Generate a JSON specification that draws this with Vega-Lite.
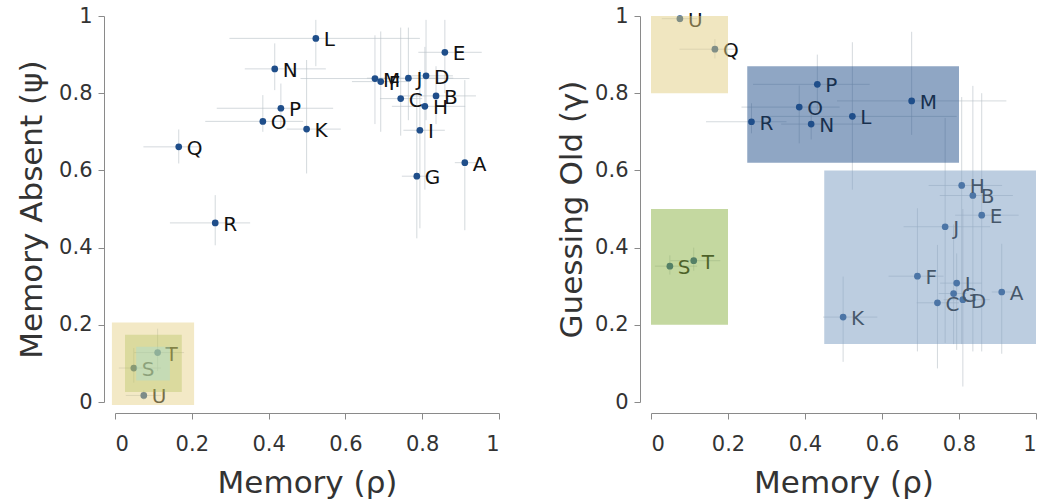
{
  "$schema": "https://vega.github.io/schema/vega-lite/v6.json",
  "padding": {"left": 16, "top": 5, "right": 5, "bottom": 5},
  "spacing": 56,
  "resolve": {"scale": {"color": "independent", "opacity": "independent"}},
  "config": {
    "font": "DejaVu Sans",
    "view": {"stroke": null},
    "axis": {
      "grid": false,
      "domainColor": "#8a8a8a",
      "tickColor": "#8a8a8a",
      "tickSize": 6,
      "labelFontSize": 21,
      "labelColor": "#333333",
      "titleFontSize": 31,
      "titleFontWeight": "normal",
      "titleColor": "#333333",
      "offset": 11
    },
    "axisY": {"titlePadding": 10, "labelPadding": 6},
    "axisX": {"titlePadding": 14, "labelPadding": 14}
  },
  "datasets": {
    "subj": [
      {"id": "A", "mx": 0.911, "mxlo": 0.885, "mxhi": 0.94, "psi": 0.620, "plo": 0.445, "phi": 0.834, "gam": 0.285, "glo": 0.125, "ghi": 0.41},
      {"id": "B", "mx": 0.836, "mxlo": 0.75, "mxhi": 0.94, "psi": 0.793, "plo": 0.72, "phi": 0.87, "gam": 0.535, "glo": 0.131, "ghi": 0.819},
      {"id": "C", "mx": 0.744, "mxlo": 0.69, "mxhi": 0.80, "psi": 0.786, "plo": 0.69, "phi": 0.97, "gam": 0.257, "glo": 0.087, "ghi": 0.407},
      {"id": "D", "mx": 0.810, "mxlo": 0.76, "mxhi": 0.88, "psi": 0.845, "plo": 0.73, "phi": 0.99, "gam": 0.265, "glo": 0.04, "ghi": 0.5},
      {"id": "E", "mx": 0.859, "mxlo": 0.79, "mxhi": 0.955, "psi": 0.906, "plo": 0.80, "phi": 0.99, "gam": 0.484, "glo": 0.131, "ghi": 0.80},
      {"id": "F", "mx": 0.692, "mxlo": 0.617, "mxhi": 0.760, "psi": 0.830, "plo": 0.70, "phi": 0.96, "gam": 0.326, "glo": 0.131, "ghi": 0.502},
      {"id": "G", "mx": 0.786, "mxlo": 0.747, "mxhi": 0.82, "psi": 0.585, "plo": 0.424, "phi": 0.80, "gam": 0.281, "glo": 0.15, "ghi": 0.46},
      {"id": "H", "mx": 0.807, "mxlo": 0.721, "mxhi": 0.912, "psi": 0.766, "plo": 0.55, "phi": 0.92, "gam": 0.561, "glo": 0.15, "ghi": 0.79},
      {"id": "I", "mx": 0.794, "mxlo": 0.751, "mxhi": 0.859, "psi": 0.704, "plo": 0.45, "phi": 0.86, "gam": 0.308, "glo": 0.135, "ghi": 0.385},
      {"id": "J", "mx": 0.764, "mxlo": 0.656, "mxhi": 0.881, "psi": 0.839, "plo": 0.73, "phi": 0.97, "gam": 0.454, "glo": 0.153, "ghi": 0.736},
      {"id": "K", "mx": 0.499, "mxlo": 0.447, "mxhi": 0.588, "psi": 0.707, "plo": 0.592, "phi": 0.886, "gam": 0.220, "glo": 0.104, "ghi": 0.325},
      {"id": "L", "mx": 0.523, "mxlo": 0.298, "mxhi": 0.794, "psi": 0.942, "plo": 0.87, "phi": 0.99, "gam": 0.740, "glo": 0.55, "ghi": 0.932},
      {"id": "M", "mx": 0.677, "mxlo": 0.483, "mxhi": 0.923, "psi": 0.838, "plo": 0.72, "phi": 0.95, "gam": 0.780, "glo": 0.692, "ghi": 0.959},
      {"id": "N", "mx": 0.416, "mxlo": 0.338, "mxhi": 0.549, "psi": 0.863, "plo": 0.808, "phi": 0.929, "gam": 0.720, "glo": 0.68, "ghi": 0.77},
      {"id": "O", "mx": 0.385, "mxlo": 0.235, "mxhi": 0.49, "psi": 0.727, "plo": 0.70, "phi": 0.795, "gam": 0.764, "glo": 0.67, "ghi": 0.82},
      {"id": "P", "mx": 0.432, "mxlo": 0.265, "mxhi": 0.568, "psi": 0.761, "plo": 0.713, "phi": 0.825, "gam": 0.823, "glo": 0.757, "ghi": 0.900},
      {"id": "Q", "mx": 0.166, "mxlo": 0.074, "mxhi": 0.223, "psi": 0.661, "plo": 0.618, "phi": 0.706, "gam": 0.914, "glo": 0.89, "ghi": 0.94},
      {"id": "R", "mx": 0.261, "mxlo": 0.143, "mxhi": 0.352, "psi": 0.464, "plo": 0.406, "phi": 0.536, "gam": 0.726, "glo": 0.696, "ghi": 0.774},
      {"id": "S", "mx": 0.049, "mxlo": 0.01, "mxhi": 0.12, "psi": 0.088, "plo": 0.05, "phi": 0.14, "gam": 0.352, "glo": 0.33, "ghi": 0.38},
      {"id": "T", "mx": 0.111, "mxlo": 0.05, "mxhi": 0.18, "psi": 0.128, "plo": 0.08, "phi": 0.19, "gam": 0.366, "glo": 0.34, "ghi": 0.40},
      {"id": "U", "mx": 0.075, "mxlo": 0.028, "mxhi": 0.12, "psi": 0.017, "plo": 0.005, "phi": 0.03, "gam": 0.993, "glo": 0.98, "ghi": 1.0}
    ],
    "boxes": [
      {"panel": "L", "grp": "ly", "x1": -0.008, "x2": 0.206, "y1": -0.008, "y2": 0.206},
      {"panel": "L", "grp": "lg", "x1": 0.026, "x2": 0.174, "y1": 0.026, "y2": 0.174},
      {"panel": "L", "grp": "lc", "x1": 0.055, "x2": 0.143, "y1": 0.056, "y2": 0.143},
      {"panel": "R", "grp": "ry", "x1": 0, "x2": 0.2, "y1": 0.8, "y2": 1.0},
      {"panel": "R", "grp": "rg", "x1": 0, "x2": 0.2, "y1": 0.2, "y2": 0.5},
      {"panel": "R", "grp": "rd", "x1": 0.25, "x2": 0.8, "y1": 0.62, "y2": 0.87},
      {"panel": "R", "grp": "rl", "x1": 0.45, "x2": 1.0, "y1": 0.15, "y2": 0.6}
    ]
  },
  "hconcat": [
    {
      "width": 384,
      "height": 386,
      "layer": [
        {
          "data": {"name": "subj"},
          "mark": {"type": "rule", "color": "#b8c0c6", "strokeWidth": 1, "opacity": 0.6},
          "encoding": {
            "x": {"field": "mxlo", "type": "quantitative", "scale": {"domain": [0, 1], "nice": false}, "title": "Memory (ρ)", "axis": {"values": [0, 0.2, 0.4, 0.6, 0.8, 1], "format": "~g"}},
            "x2": {"field": "mxhi"},
            "y": {"field": "psi", "type": "quantitative", "scale": {"domain": [0, 1], "nice": false}, "title": "Memory Absent (ψ)", "axis": {"values": [0, 0.2, 0.4, 0.6, 0.8, 1], "format": "~g", "titlePadding": 10}}
          }
        },
        {
          "data": {"name": "subj"},
          "mark": {"type": "rule", "color": "#b8c0c6", "strokeWidth": 1, "opacity": 0.6},
          "encoding": {
            "x": {"field": "mx", "type": "quantitative", "title": "Memory (ρ)"},
            "y": {"field": "plo", "type": "quantitative", "title": "Memory Absent (ψ)"},
            "y2": {"field": "phi"}
          }
        },
        {
          "data": {"name": "subj"},
          "mark": {"type": "circle", "size": 45, "color": "#1f4e8a", "opacity": 1},
          "encoding": {
            "x": {"field": "mx", "type": "quantitative", "title": "Memory (ρ)"},
            "y": {"field": "psi", "type": "quantitative", "title": "Memory Absent (ψ)"}
          }
        },
        {
          "data": {"name": "subj"},
          "mark": {"type": "text", "align": "left", "baseline": "middle", "dx": 8, "dy": 2, "fontSize": 20, "color": "#111111"},
          "encoding": {
            "x": {"field": "mx", "type": "quantitative", "title": "Memory (ρ)"},
            "y": {"field": "psi", "type": "quantitative", "title": "Memory Absent (ψ)"},
            "text": {"field": "id"}
          }
        },
        {
          "data": {"name": "boxes"},
          "transform": [{"filter": "datum.panel === 'L'"}],
          "mark": {"type": "rect"},
          "encoding": {
            "x": {"field": "x1", "type": "quantitative", "title": "Memory (ρ)"},
            "x2": {"field": "x2"},
            "y": {"field": "y1", "type": "quantitative", "title": "Memory Absent (ψ)"},
            "y2": {"field": "y2"},
            "color": {"field": "grp", "type": "nominal", "legend": null, "scale": {"domain": ["ly", "lg", "lc", "ry", "rg", "rd", "rl"], "range": ["#e5d185", "#a6bb43", "#9fdde0", "#e1cd81", "#89b141", "#1f4e8a", "#799bc1"]}},
            "opacity": {"field": "grp", "type": "nominal", "legend": null, "scale": {"type": "ordinal", "domain": ["ly", "lg", "lc", "ry", "rg", "rd", "rl"], "range": [0.47, 0.3, 0.35, 0.5, 0.5, 0.5, 0.5]}}
          }
        }
      ]
    },
    {
      "width": 385,
      "height": 386,
      "layer": [
        {
          "data": {"name": "subj"},
          "mark": {"type": "rule", "color": "#b8c0c6", "strokeWidth": 1, "opacity": 0.6},
          "encoding": {
            "x": {"field": "mxlo", "type": "quantitative", "scale": {"domain": [0, 1], "nice": false}, "title": "Memory (ρ)", "axis": {"values": [0, 0.2, 0.4, 0.6, 0.8, 1], "format": "~g"}},
            "x2": {"field": "mxhi"},
            "y": {"field": "gam", "type": "quantitative", "scale": {"domain": [0, 1], "nice": false}, "title": "Guessing Old (γ)", "axis": {"values": [0, 0.2, 0.4, 0.6, 0.8, 1], "format": "~g", "titlePadding": 6}}
          }
        },
        {
          "data": {"name": "subj"},
          "mark": {"type": "rule", "color": "#b8c0c6", "strokeWidth": 1, "opacity": 0.6},
          "encoding": {
            "x": {"field": "mx", "type": "quantitative", "title": "Memory (ρ)"},
            "y": {"field": "glo", "type": "quantitative", "title": "Guessing Old (γ)"},
            "y2": {"field": "ghi"}
          }
        },
        {
          "data": {"name": "subj"},
          "mark": {"type": "circle", "size": 45, "color": "#1f4e8a", "opacity": 1},
          "encoding": {
            "x": {"field": "mx", "type": "quantitative", "title": "Memory (ρ)"},
            "y": {"field": "gam", "type": "quantitative", "title": "Guessing Old (γ)"}
          }
        },
        {
          "data": {"name": "subj"},
          "mark": {"type": "text", "align": "left", "baseline": "middle", "dx": 8, "dy": 2, "fontSize": 20, "color": "#111111"},
          "encoding": {
            "x": {"field": "mx", "type": "quantitative", "title": "Memory (ρ)"},
            "y": {"field": "gam", "type": "quantitative", "title": "Guessing Old (γ)"},
            "text": {"field": "id"}
          }
        },
        {
          "data": {"name": "boxes"},
          "transform": [{"filter": "datum.panel === 'R'"}],
          "mark": {"type": "rect"},
          "encoding": {
            "x": {"field": "x1", "type": "quantitative", "title": "Memory (ρ)"},
            "x2": {"field": "x2"},
            "y": {"field": "y1", "type": "quantitative", "title": "Guessing Old (γ)"},
            "y2": {"field": "y2"},
            "color": {"field": "grp", "type": "nominal", "legend": null, "scale": {"domain": ["ly", "lg", "lc", "ry", "rg", "rd", "rl"], "range": ["#e5d185", "#a6bb43", "#9fdde0", "#e1cd81", "#89b141", "#1f4e8a", "#799bc1"]}},
            "opacity": {"field": "grp", "type": "nominal", "legend": null, "scale": {"type": "ordinal", "domain": ["ly", "lg", "lc", "ry", "rg", "rd", "rl"], "range": [0.47, 0.3, 0.35, 0.5, 0.5, 0.5, 0.5]}}
          }
        }
      ]
    }
  ]
}
